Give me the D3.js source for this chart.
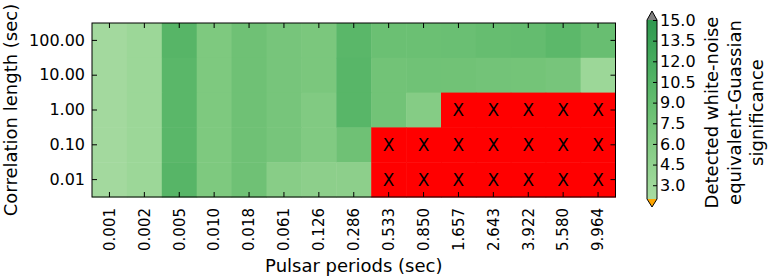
<!DOCTYPE html>
<html>
<head>
<meta charset="utf-8">
<script src="https://cdn.jsdelivr.net/npm/d3@7.9.0/dist/d3.min.js"></script>
<style>
  body { margin: 0; background: #fff; }
  text { font-family: "DejaVu Sans", sans-serif; }
</style>
</head>
<body>
<script>
// ─── DATA ────────────────────────────────────────────────────────────────────
const periods = ['0.001','0.002','0.005','0.010','0.018','0.061','0.126','0.286',
                 '0.533','0.850','1.657','2.643','3.922','5.580','9.964'];
const corrLengths = ['100.00','10.00','1.00','0.10','0.01'];
// null = not detected (drawn red with X)
const sig100  = [2.6, 3.3, 10.3, 6.5, 8.0, 7.2, 6.8, 10.0, 8.3, 8.3, 8.4, 8.8, 9.0, 9.8, 8.6];
const sig10   = [2.6, 3.3, 10.0, 6.5, 8.0, 7.2, 6.8, 10.2, 7.7, 7.9, 7.8, 7.6, 7.5, 7.2, 3.3];
const sig1    = [2.6, 3.3, 10.0, 6.5, 8.0, 7.2, 6.2, 10.2, 7.7, 5.8, null, null, null, null, null];
const sig01   = [2.6, 3.3, 10.0, 6.5, 8.0, 7.2, 6.2, 8.0, null, null, null, null, null, null, null];
const sig001  = [2.6, 3.3, 10.3, 6.5, 8.0, 5.5, 5.0, 5.0, null, null, null, null, null, null, null];
const rows = [sig100, sig10, sig1, sig01, sig001];
const cbTicks = [3.0, 4.5, 6.0, 7.5, 9.0, 10.5, 12.0, 13.5, 15.0];

// ─── LAYOUT ──────────────────────────────────────────────────────────────────
const W = 770, H = 277;
const plot = { left: 92, top: 23, right: 615.5, bottom: 197 };
const xTickFont = '15px', tickFont = '16px', labelFont = '18px';
const svg = d3.select('body').append('svg').attr('width', W).attr('height', H);

const x = d3.scaleBand().domain(periods).range([plot.left, plot.right]);
const y = d3.scaleBand().domain(corrLengths).range([plot.top, plot.bottom]);
const vmin = 2, vmax = 15;
const color = v => d3.interpolateGreens(0.35 + (v - vmin) / (vmax - vmin) * 0.35);

const cells = [];
rows.forEach((r, i) => r.forEach((v, j) => cells.push({ row: corrLengths[i], col: periods[j], v })));

svg.append('g').selectAll('rect')
  .data(cells).enter().append('rect')
    .attr('x', d => x(d.col))
    .attr('y', d => y(d.row))
    .attr('width', x.bandwidth() + 0.5)
    .attr('height', y.bandwidth() + 0.5)
    .attr('fill', d => d.v == null ? '#ff0000' : color(d.v));

svg.append('g').selectAll('text')
  .data(cells.filter(d => d.v == null)).enter().append('text')
    .attr('x', d => x(d.col) + x.bandwidth() / 2)
    .attr('y', d => y(d.row) + y.bandwidth() / 2)
    .attr('dy', '0.36em')
    .attr('text-anchor', 'middle')
    .style('font-size', '17px')
    .text('X');

// ─── AXES (inward ticks on all sides) ───────────────────────────────────────
const tick = 5;
const axB = svg.append('g').attr('transform', `translate(0,${plot.bottom})`)
  .call(d3.axisBottom(x).tickSizeInner(-tick).tickSizeOuter(0));
axB.selectAll('text')
  .attr('transform', 'rotate(-90)')
  .attr('text-anchor', 'end')
  .attr('x', -11).attr('y', 0).attr('dy', '0.35em')
  .style('font-size', xTickFont).attr('fill', '#000');
svg.append('g').attr('transform', `translate(0,${plot.top})`)
  .call(d3.axisTop(x).tickSizeInner(-tick).tickSizeOuter(0).tickFormat(''));
const axL = svg.append('g').attr('transform', `translate(${plot.left},0)`)
  .call(d3.axisLeft(y).tickSizeInner(-tick).tickSizeOuter(0).tickPadding(7));
axL.selectAll('text').style('font-size', tickFont).attr('fill', '#000');
svg.append('g').attr('transform', `translate(${plot.right},0)`)
  .call(d3.axisRight(y).tickSizeInner(-tick).tickSizeOuter(0).tickFormat(''));
svg.selectAll('.domain').remove();
svg.selectAll('.tick line').attr('stroke', '#000');

svg.append('rect')
  .attr('x', plot.left).attr('y', plot.top)
  .attr('width', plot.right - plot.left).attr('height', plot.bottom - plot.top)
  .attr('fill', 'none').attr('stroke', '#000').attr('stroke-width', 1);

svg.append('text')
  .attr('x', (plot.left + plot.right) / 2).attr('y', 272)
  .attr('text-anchor', 'middle').style('font-size', labelFont)
  .text('Pulsar periods (sec)');
svg.append('text')
  .attr('transform', `translate(17,${(plot.top + plot.bottom) / 2}) rotate(-90)`)
  .attr('text-anchor', 'middle').style('font-size', labelFont)
  .text('Correlation length (sec)');

// ─── COLORBAR ───────────────────────────────────────────────────────────────
const cb = { x: 647, w: 10, top: 20, bottom: 199 };
const cy = d3.scaleLinear().domain([vmin, vmax]).range([cb.bottom, cb.top]);
const defs = svg.append('defs');
const grad = defs.append('linearGradient').attr('id', 'cbgrad')
  .attr('x1', 0).attr('y1', 1).attr('x2', 0).attr('y2', 0);
d3.range(0, 1.0001, 0.1).forEach(t => {
  grad.append('stop').attr('offset', t).attr('stop-color', color(vmin + t * (vmax - vmin)));
});
svg.append('rect')
  .attr('x', cb.x).attr('y', cb.top).attr('width', cb.w).attr('height', cb.bottom - cb.top)
  .attr('fill', 'url(#cbgrad)');
svg.append('path')
  .attr('d', `M${cb.x},${cb.top}L${cb.x + cb.w / 2},${cb.top - 9}L${cb.x + cb.w},${cb.top}Z`)
  .attr('fill', '#808080');
svg.append('path')
  .attr('d', `M${cb.x},${cb.bottom}L${cb.x + cb.w / 2},${cb.bottom + 8}L${cb.x + cb.w},${cb.bottom}Z`)
  .attr('fill', '#ffa500');
svg.append('path')
  .attr('d', `M${cb.x},${cb.top}L${cb.x + cb.w / 2},${cb.top - 9}L${cb.x + cb.w},${cb.top}` +
             `L${cb.x + cb.w},${cb.bottom}L${cb.x + cb.w / 2},${cb.bottom + 8}L${cb.x},${cb.bottom}Z`)
  .attr('fill', 'none').attr('stroke', '#000').attr('stroke-width', 1);

const axC = svg.append('g').attr('transform', `translate(${cb.x + cb.w},0)`)
  .call(d3.axisRight(cy).tickValues(cbTicks).tickFormat(d3.format('.1f'))
    .tickSizeInner(-4).tickSizeOuter(0).tickPadding(3));
axC.select('.domain').remove();
axC.selectAll('.tick line').attr('stroke', '#000');
axC.selectAll('text').style('font-size', tickFont).attr('fill', '#000');

const cbLabel = ['Detected white-noise', 'equivalent-Guassian', 'significance'];
svg.append('g').selectAll('text')
  .data(cbLabel).enter().append('text')
    .attr('transform', (d, i) => `translate(${718 + i * 22.5},${(cb.top + cb.bottom) / 2 + 3}) rotate(-90)`)
    .attr('text-anchor', 'middle').style('font-size', labelFont)
    .text(d => d);
</script>
</body>
</html>
